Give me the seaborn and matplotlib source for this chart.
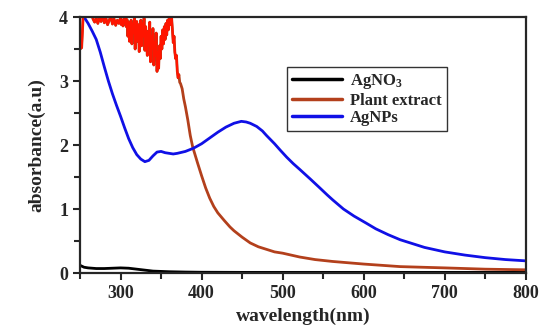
import pandas as pd
import matplotlib
matplotlib.use("Agg")
import matplotlib.pyplot as plt
from matplotlib.ticker import MultipleLocator
import seaborn as sns

# longitudes de onda y absorbancias
wl_agno3 = [250, 255, 260, 270, 280, 290, 300, 310, 320, 330, 340, 350, 360, 380,
            400, 450, 500, 600, 700, 800]
abs_agno3 = [0.12, 0.09, 0.08, 0.07, 0.07, 0.075, 0.08, 0.075, 0.06, 0.045, 0.03, 0.025,
             0.02, 0.015, 0.012, 0.01, 0.01, 0.01, 0.01, 0.01]

wl_plant = [250, 252, 254, 256, 258, 260, 262, 264, 266, 268, 270, 272, 274, 276, 278,
            280, 282, 284, 286, 288, 290, 292, 294, 296, 298,
            300, 301, 302, 303, 304, 305, 306, 307, 308, 309, 310, 311, 312, 313, 314,
            315, 316, 317, 318, 319, 320, 321, 322, 323, 324, 325, 326, 327, 328, 329,
            330, 331, 332, 333, 334, 335, 336, 337, 338, 339, 340, 341, 342, 343, 344,
            345, 346, 347, 348, 349, 350, 351, 352, 353, 354, 355, 356, 357, 358, 359,
            360, 361, 362, 363, 364, 365, 366, 367, 368, 369, 370, 371, 372, 373, 374,
            376, 378, 380, 383, 386, 389, 395, 400, 405, 410, 415, 420, 428, 435, 440,
            450, 460, 470, 480, 490, 500, 521, 540, 562, 600, 645, 700, 750, 800]
abs_plant = [3.50, 3.52, 4.05, 4.10, 4.05, 4.10, 4.05, 4.08, 3.97, 3.92, 3.98, 3.90, 3.99,
             3.93, 4.02, 3.91, 3.98, 3.88, 3.95, 4.01, 3.89, 3.97, 3.87, 3.95, 3.90,
             3.99, 3.88, 3.95, 3.86, 3.97, 3.90, 4.02, 3.85, 3.96, 3.70, 3.92, 3.62, 3.88,
             3.95, 3.58, 3.90, 3.75, 3.98, 3.50, 3.86, 3.93, 3.62, 3.88, 3.46, 3.80, 3.95,
             3.55, 3.90, 3.70, 3.98, 3.48, 3.85, 3.60, 3.40, 3.78, 3.55, 3.92, 3.30, 3.70,
             3.50, 3.82, 3.25, 3.60, 3.40, 3.75, 3.15, 3.45, 3.20, 3.55, 3.35, 3.70, 3.50,
             3.80, 3.58, 3.85, 3.65, 3.90, 3.72, 3.95, 3.80, 3.98, 3.88, 3.95, 3.99, 3.80,
             3.60, 3.70, 3.45, 3.35, 3.40, 3.15, 3.05, 3.10, 2.98, 2.96,
             2.88, 2.72, 2.60, 2.39, 2.15, 1.97, 1.72, 1.52, 1.33, 1.17, 1.04, 0.94, 0.82,
             0.72, 0.66, 0.56, 0.47, 0.41, 0.37, 0.33, 0.31, 0.25, 0.21, 0.18, 0.14, 0.10,
             0.08, 0.06, 0.05]

wl_agnps = [250, 255, 260, 265, 270, 275, 280, 285, 290, 295, 300, 305, 310, 315, 320,
            325, 330, 335, 340, 345, 350, 355, 360, 365, 370, 380, 390, 400, 410, 420,
            430, 440, 449, 455, 460, 468, 475, 480, 490, 497, 505, 513, 521, 534, 545,
            555, 562, 575, 588, 603, 615, 630, 645, 660, 675, 700, 725, 750, 775, 800]
abs_agnps = [4.05, 4.00, 3.90, 3.78, 3.65, 3.45, 3.22, 3.00, 2.80, 2.62, 2.45, 2.27, 2.10,
             1.96, 1.85, 1.78, 1.74, 1.76, 1.83, 1.89, 1.90, 1.88, 1.87, 1.86, 1.87, 1.90,
             1.95, 2.02, 2.11, 2.20, 2.28, 2.34, 2.37, 2.36, 2.34, 2.29, 2.22, 2.15, 2.02,
             1.92, 1.81, 1.71, 1.62, 1.47, 1.34, 1.22, 1.14, 1.00, 0.89, 0.78, 0.69, 0.60,
             0.52, 0.46, 0.40, 0.33, 0.28, 0.24, 0.21, 0.19]

df = pd.concat([
    pd.DataFrame({'wl': wl_agno3, 'abs': abs_agno3, 'muestra': 'AgNO$_3$'}),
    pd.DataFrame({'wl': wl_plant, 'abs': abs_plant, 'muestra': 'Plant extract'}),
    pd.DataFrame({'wl': wl_agnps, 'abs': abs_agnps, 'muestra': 'AgNPs'}),
])
colores = {'AgNO$_3$': '#000000', 'Plant extract': '#b3401c', 'AgNPs': '#1010e6'}

sns.set_style('ticks')
plt.rcParams['font.family'] = ['Liberation Serif', 'DejaVu Serif']
plt.rcParams['font.weight'] = 'bold'
plt.rcParams['mathtext.fontset'] = 'custom'
plt.rcParams['mathtext.rm'] = 'Liberation Serif:bold'
plt.rcParams['mathtext.default'] = 'rm'

fig = plt.figure(figsize=(5.5, 3.34), dpi=100)
ax = fig.add_axes([0.1455, 0.1826, 0.8105, 0.7664])

sns.lineplot(data=df, x='wl', y='abs', hue='muestra', palette=colores,
             linewidth=2, sort=False, estimator=None, ax=ax)
# tramo ruidoso del extracto en rojo
ruido = df[(df['muestra'] == 'Plant extract') & (df['wl'] <= 372)]
sns.lineplot(x=ruido['wl'], y=ruido['abs'], color='#ff1500', linewidth=1.6,
             sort=False, estimator=None, ax=ax, legend=False)

ax.set_xlim(250, 800)
ax.set_ylim(0, 4)
ax.xaxis.set_major_locator(MultipleLocator(100))
ax.xaxis.set_minor_locator(MultipleLocator(50))
ax.yaxis.set_major_locator(MultipleLocator(1))
ax.yaxis.set_minor_locator(MultipleLocator(0.5))
ax.tick_params(which='both', direction='out', width=1.5, labelsize=13)
ax.tick_params(which='major', length=5)
ax.tick_params(which='minor', length=4)
for s in ax.spines.values():
    s.set_linewidth(1.6)
    s.set_visible(True)

ax.set_xlabel('wavelength(nm)', fontsize=14, fontweight='bold')
ax.set_ylabel('absorbance(a.u)', fontsize=14, fontweight='bold', labelpad=10)

leg = ax.legend(loc='upper left', bbox_to_anchor=(0.464, 0.805), borderaxespad=0,
                fontsize=12, handlelength=3.0, frameon=True, fancybox=False,
                framealpha=1, borderpad=0.3, labelspacing=0.1, handletextpad=0.5)
leg.get_frame().set_edgecolor('#333333')
leg.get_frame().set_linewidth(1.0)
for h in leg.get_lines():
    h.set_linewidth(2.5)

fig.savefig('out.png', dpi=100)
